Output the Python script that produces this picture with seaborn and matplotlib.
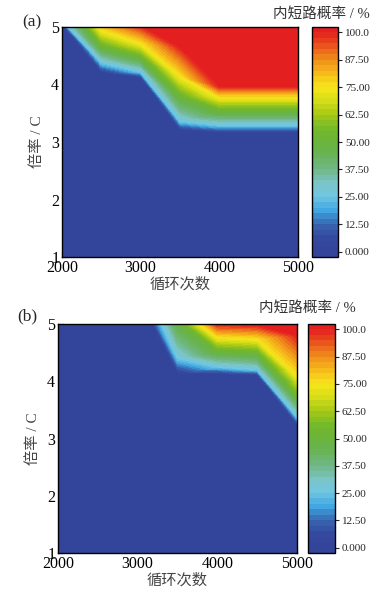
import numpy as np
import matplotlib
matplotlib.use("Agg")
import matplotlib.pyplot as plt
import matplotlib.tri as mtri
import seaborn as sns

# cycle numbers (x)
cycles = [2000, 2500, 3000, 3500, 4000, 4500, 5000]
# probability levels (%) and the C-rate at which each column reaches that level
prob_levels = [0, 25, 50, 75, 100]
# panel (a): one row per cycle number, rates for 0/25/50/75/100 %
rate_at_level_a = [
    [5.02, 5.12, 5.48, 5.90, 6.50],
    [4.20, 4.38, 4.65, 4.95, 5.35],
    [4.11, 4.22, 4.46, 4.72, 5.03],
    [3.20, 3.36, 3.78, 4.15, 4.65],
    [3.15, 3.29, 3.53, 3.78, 3.97],
    [3.15, 3.29, 3.53, 3.78, 3.97],
    [3.15, 3.29, 3.53, 3.78, 3.97],
]
# panel (b)
rate_at_level_b = [
    [6.50, 7.00, 7.50, 8.00, 8.50],
    [6.50, 7.00, 7.50, 8.00, 8.50],
    [5.47, 5.90, 6.60, 7.10, 7.60],
    [4.12, 4.40, 5.05, 5.29, 5.60],
    [4.12, 4.25, 4.52, 4.77, 5.00],
    [4.10, 4.20, 4.48, 4.74, 4.98],
    [3.22, 3.38, 3.72, 4.10, 4.80],
]

cbar_ticks = [0, 12.5, 25, 37.5, 50, 62.5, 75, 87.5, 100]
cbar_labels = ["0.000", "12.50", "25.00", "37.50", "50.00", "62.50", "75.00", "87.50", "100.0"]

sns.set_theme(style="ticks")
plt.rcParams['font.family'] = ['Liberation Serif', 'Noto Sans CJK SC', 'DejaVu Sans']

# Origin-like rainbow map
cmap = sns.blend_palette([
    "#334499", "#35499e", "#3866b0", "#3fa7e2", "#6fc6e2", "#7cc5c8",
    "#70b785", "#69b35a", "#6ab43a", "#74b82a", "#a5c816", "#d4dc18",
    "#f6e71b", "#f6bd1b", "#f08f1b", "#e9581d", "#e41f1f"], as_cmap=True)

levels = np.arange(-2.5, 102.6, 2.5)


def build_triangulation(rate_table):
    # each column: floor (1C, 0 %), the iso-level rates, ceiling (100 %)
    xs, ys, zs = [], [], []
    for c, rates in zip(cycles, rate_table):
        col_y = [1.0] + list(rates) + [10.0]
        col_z = [0] + prob_levels + [100]
        xs += [c] * len(col_y)
        ys += col_y
        zs += col_z
    n = len(prob_levels) + 2
    tris = []
    for i in range(len(cycles) - 1):
        for k in range(n - 1):
            a, b = i * n + k, (i + 1) * n + k
            tris.append([a, b, b + 1])
            tris.append([a, b + 1, a + 1])
    tri = mtri.Triangulation(np.array(xs, float), np.array(ys, float), tris)
    return tri, np.array(zs, float)


fig = plt.figure(figsize=(3.86, 5.96), dpi=100)
W, H = 386, 596


def px_axes(l, t, r, b):
    return fig.add_axes([l / W, 1 - b / H, (r - l) / W, (b - t) / H])


panels = [
    (rate_at_level_a, "(a)", (62, 27, 298, 257), (312, 27, 338, 257), (32, 22), 370),
    (rate_at_level_b, "(b)", (58, 324, 297, 553), (308, 324, 335, 553), (27, 316), 356),
]

for table, tag, abox, cbox, tagpos, title_right in panels:
    ax = px_axes(*abox)
    cax = px_axes(*cbox)
    tri, z = build_triangulation(table)
    cs = ax.tricontourf(tri, z, levels=levels, cmap=cmap, vmin=0, vmax=100)
    ax.set_xlim(2000, 5000)
    ax.set_ylim(1, 5)
    ax.set_xticks([2000, 3000, 4000, 5000])
    ax.set_yticks([1, 2, 3, 4, 5])
    ax.tick_params(direction="in", length=4, width=0.8, labelsize=11.5,
                   colors="black", pad=2)
    for s in ax.spines.values():
        s.set_linewidth(1.0)
        s.set_color("black")
        s.set_zorder(5)
    ax.set_xlabel("循环次数", fontsize=11, color="#444444", labelpad=1)
    ax.set_ylabel("倍率 / C", fontsize=11, color="#444444", labelpad=5)

    cb = fig.colorbar(cs, cax=cax, ticks=cbar_ticks)
    cb.ax.set_yticklabels(cbar_labels)
    cb.ax.tick_params(direction="out", length=3, width=0.8, labelsize=8, pad=2)
    cb.outline.set_linewidth(1.0)
    cb.outline.set_edgecolor("black")

    fig.text(tagpos[0] / W, 1 - tagpos[1] / H, tag, fontsize=12.5,
             ha="center", va="center")
    fig.text(title_right / W, 1 - (tagpos[1] - 8) / H, "内短路概率 / %",
             fontsize=10.5, ha="right", va="center", color="#333333")

fig.savefig("out.png", dpi=100)
